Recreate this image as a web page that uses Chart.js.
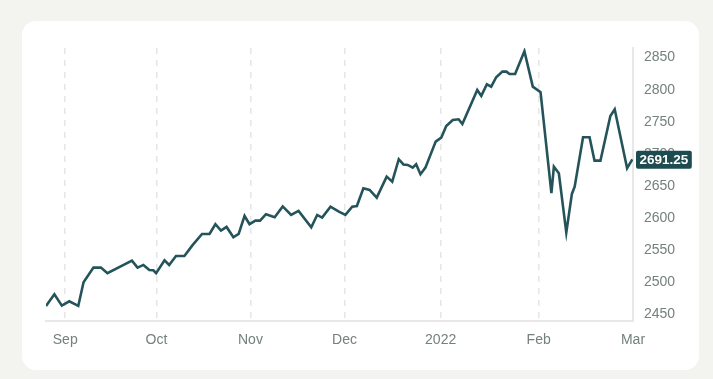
<!DOCTYPE html>
<html>
<head>
<meta charset="utf-8">
<script src="https://cdn.jsdelivr.net/npm/chart.js@4"></script>
<style>
  html, body { margin: 0; padding: 0; background: #f3f3ef; }
  #card { position: absolute; left: 22px; top: 21px; width: 677px; height: 349px; background: #fff; border-radius: 14px; }
  #priceChart { position: absolute; left: 0; top: 0; }
</style>
</head>
<body>
<div id="card"></div>
<canvas id="priceChart" width="713" height="379"></canvas>
<script>
// days counted from Sep 1 (approx)
const dayOffsets = [
  -6.2, -3.5, -1.1, 1.3, 4.2, 5.9, 9.1, 11.5, 13.6, 21.5,
  23.3, 25.2, 27.1, 28.4, 29.3, 32.0, 33.5, 35.7, 38.4, 41.1,
  44.1, 46.5, 48.4, 50.2, 52.0, 54.2, 55.9, 57.8, 59.4, 61.3,
  62.8, 64.7, 67.5, 70.1, 72.8, 75.2, 79.3, 81.2, 82.8, 85.5,
  88.2, 90.3, 92.5, 94.0, 96.1, 98.1, 100.4, 103.6, 105.4, 107.5,
  109.0, 110.4, 112.0, 113.1, 114.5, 116.1, 119.4, 121.2, 122.8, 124.9,
  126.8, 128.0, 132.8, 134.1, 135.9, 137.3, 138.9, 140.9, 142.2, 143.2,
  145.0, 148.0, 150.7, 153.2, 156.7, 157.5, 159.1, 161.5, 163.3, 164.2,
  166.9, 169.0, 170.6, 172.5, 175.7, 177.1, 181.1, 182.8
];
const prices = [
  2462.5, 2480.7, 2463.0, 2469.8, 2462.5, 2499.5, 2522.3, 2522.3, 2513.5, 2533.2,
  2522.3, 2526.5, 2518.7, 2518.2, 2513.5, 2533.8, 2526.5, 2540.5, 2540.5, 2557.7,
  2574.8, 2574.8, 2590.0, 2580.0, 2585.8, 2569.7, 2574.8, 2602.9, 2590.0, 2595.6,
  2595.6, 2605.6, 2600.9, 2617.8, 2604.5, 2610.7, 2585.3, 2604.5, 2600.3, 2617.4,
  2609.6, 2604.5, 2617.4, 2618.5, 2646.2, 2643.5, 2631.5, 2664.3, 2656.5, 2691.4,
  2683.3, 2682.5, 2678.3, 2683.6, 2668.0, 2678.3, 2718.9, 2725.1, 2743.4, 2752.7,
  2753.8, 2746.5, 2799.6, 2790.2, 2808.4, 2804.7, 2819.4, 2828.1, 2828.1, 2824.5,
  2824.5, 2859.9, 2804.7, 2796.0, 2638.4, 2679.9, 2669.6, 2576.9, 2637.3, 2648.7,
  2725.7, 2725.7, 2689.2, 2689.2, 2759.0, 2769.4, 2677.4, 2691.25
];
const monthLabels = ['Sep', 'Oct', 'Nov', 'Dec', '2022', 'Feb', 'Mar'];
const monthTickDays = [0, 29.4, 59.7, 90.0, 121.0, 152.6, 183];
const priceTicks = [2450, 2500, 2550, 2600, 2650, 2700, 2750, 2800, 2850];

const lineColor = '#24545a';
const labelColor = '#74817f';
const fontFamily = '"Liberation Sans", Arial, sans-serif';

const points = dayOffsets.map((d, i) => ({ x: d, y: prices[i] }));

// badge with the last price on the right axis
const lastPriceBadge = {
  id: 'lastPriceBadge',
  afterDraw(chart) {
    const { ctx, chartArea, scales } = chart;
    const last = prices[prices.length - 1];
    const y = scales.y.getPixelForValue(last);
    const text = last.toFixed(2);
    ctx.save();
    ctx.font = 'bold 13.5px ' + fontFamily;
    const w = ctx.measureText(text).width + 7;
    const x = chartArea.right + 3;
    ctx.fillStyle = '#1d4b50';
    ctx.beginPath();
    ctx.roundRect(x, y - 8.5, w, 18, 2);
    ctx.fill();
    ctx.fillStyle = '#fff';
    ctx.textBaseline = 'middle';
    ctx.textAlign = 'left';
    ctx.fillText(text, x + 3.5, y + 1);
    ctx.restore();
  }
};

new Chart(document.getElementById('priceChart').getContext('2d'), {
  type: 'line',
  data: {
    datasets: [{
      data: points,
      borderColor: lineColor,
      borderWidth: 2.6,
      pointRadius: 0,
      tension: 0,
      fill: false
    }]
  },
  options: {
    responsive: false,
    animation: false,
    layout: { padding: { left: 46, top: 48, right: 0, bottom: 0 } },
    plugins: { legend: { display: false }, tooltip: { enabled: false } },
    scales: {
      x: {
        type: 'linear',
        min: dayOffsets[0],
        max: 183,
        afterBuildTicks: s => { s.ticks = monthTickDays.map(v => ({ value: v })); },
        afterFit: s => { s.height = 58; },
        ticks: {
          autoSkip: false,
          maxRotation: 0,
          padding: 11,
          color: labelColor,
          font: { family: fontFamily, size: 14 },
          callback: (v, i) => monthLabels[i]
        },
        grid: { color: '#e6e6e6', lineWidth: 1.5, drawTicks: false },
        border: { color: '#e8e8e8', width: 2, dash: [6, 6] }
      },
      y: {
        position: 'right',
        min: 2439,
        max: 2865,
        afterBuildTicks: s => { s.ticks = priceTicks.map(v => ({ value: v })); },
        afterFit: s => { s.width = 80; },
        ticks: {
          padding: 11,
          color: labelColor,
          font: { family: fontFamily, size: 14 },
          callback: v => String(v)
        },
        grid: { display: false, drawTicks: false },
        border: { color: '#e8e8e8', width: 2 }
      }
    }
  },
  plugins: [lastPriceBadge]
});
</script>
</body>
</html>
